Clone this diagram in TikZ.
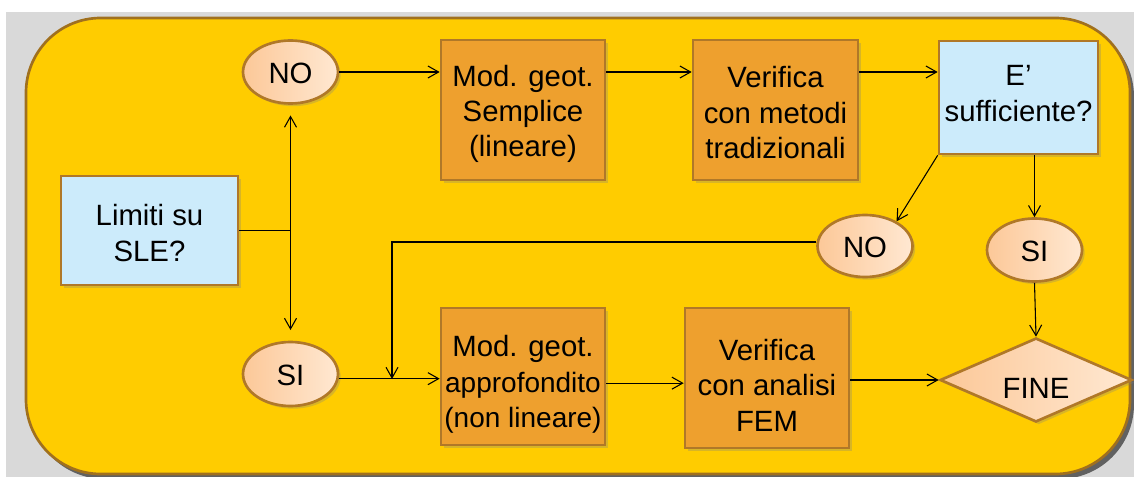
\documentclass[tikz,border=0pt]{standalone}
\usepackage{fontspec}
\setmainfont{Liberation Sans}
\usetikzlibrary{shapes.geometric,arrows.meta,shadows}

\definecolor{bggray}{HTML}{D9D9D9}
\definecolor{frameyellow}{HTML}{FFCC00}
\definecolor{framebrown}{HTML}{A0701E}
\definecolor{boxorange}{HTML}{EEA02E}
\definecolor{boxblue}{HTML}{CCEBFB}
\definecolor{edgebrown}{HTML}{B07828}
\definecolor{peachdark}{HTML}{FCC898}
\definecolor{peachlight}{HTML}{FFE8D2}

\tikzset{
  sz/.style 2 args={minimum width=#1*0.75pt, minimum height=#2*0.75pt},
  base/.style={draw=edgebrown, line width=2pt, inner sep=0pt,
    drop shadow={shadow xshift=2pt, shadow yshift=-2pt, opacity=0.3}},
  procbox/.style={base, rectangle, fill=boxorange},
  askbox/.style={base, rectangle, fill=boxblue},
  answer/.style={base, ellipse, left color=peachdark, right color=peachlight},
  endbox/.style={base, diamond, aspect=2.3, left color=peachdark, right color=peachlight},
  txt/.style={inner sep=0pt, align=center, font=\fontsize{22}{26.5}\selectfont},
  link/.style={line width=0.8pt, -{Straight Barb[length=8pt,width=9pt]}},
  plain/.style={line width=0.8pt},
}

\begin{document}
\begin{tikzpicture}[x=0.75pt, y=-0.75pt]
  \useasboundingbox (0,0) rectangle (1134,477);
  % page background
  \fill[bggray] (6,12) rectangle (1134,477);
  % panel with its shadow
  \fill[black, opacity=0.55, rounded corners=56pt] (30,22) rectangle (1134,479);
  \draw[framebrown, line width=2pt, fill=frameyellow, rounded corners=56pt]
    (26,18) rectangle (1130,474);

  % shapes
  \node[askbox, sz={177}{109}] (lim) at (149.5,230.5) {};
  \node[answer, sz={95}{63}] (no1) at (290.5,72) {};
  \node[answer, sz={95}{64}] (si1) at (290.5,374) {};
  \node[procbox, sz={164}{140}] (mod1) at (523,110) {};
  \node[procbox, sz={165}{140}] (ver1) at (775.5,110) {};
  \node[askbox, sz={159}{113}] (suff) at (1018.5,97.5) {};
  \node[answer, sz={95}{62}] (no2) at (865,246) {};
  \node[answer, sz={95}{63}] (si2) at (1034.5,250) {};
  \node[procbox, sz={164}{137}] (mod2) at (523,376.5) {};
  \node[procbox, sz={164}{140}] (ver2) at (767,378) {};
  \node[endbox, sz={192}{84}] (fine) at (1036,380) {};

  % labels
  \node[txt] (limt) at ([yshift=-2pt]lim.center) {Limiti su\\SLE?};
  \node[txt] (no1t) at ([yshift=-1pt]no1.center) {NO};
  \node[txt] (si1t) at ([yshift=-1pt]si1.center) {SI};
  \node[txt] (mod1t) at ([yshift=-3pt]mod1.center) {Mod. geot.\\Semplice\\(lineare)};
  \node[txt] (ver1t) at ([yshift=-2pt]ver1.center) {Verifica\\con metodi\\tradizionali};
  \node[txt] (sufft) at ([yshift=3pt]suff.center) {E’\\sufficiente?};
  \node[txt] (no2t) at ([yshift=-1pt]no2.center) {NO};
  \node[txt] (si2t) at ([yshift=-1pt]si2.center) {SI};
  \node[txt] (mod2t) at ([yshift=-6pt]mod2.center)
    {Mod. geot.\\{\fontsize{21}{26.5}\selectfont approfondito}\\{\fontsize{21}{26.5}\selectfont(non lineare)}};
  \node[txt] (ver2t) at ([yshift=-5.5pt]ver2.center) {Verifica\\con analisi\\FEM};
  \node[txt] (finet) at ([yshift=-6.5pt]fine.center) {FINE};

  % helper points
  \coordinate (hub) at (no1 |- lim.east);
  \coordinate (s1o) at ([yshift=-3.5pt]si1.east);
  \coordinate (m2o) at ([yshift=-5pt]mod2.east);
  \coordinate (n2o) at ([yshift=3pt]no2.west);
  \coordinate (drop) at (392,379);

  % connectors
  \draw[plain] (lim.east) -- (hub);
  \draw[link, shorten >=8pt] (hub) -- (no1.south);
  \draw[link, shorten >=8pt] (hub) -- (si1.north);
  \draw[link] (no1.east) -- (mod1.west |- no1.east);
  \draw[link] (mod1.east |- no1.east) -- (ver1.west |- no1.east);
  \draw[link] (ver1.east |- no1.east) -- (suff.west |- no1.east);
  \draw[link] (suff.south west) -- (no2.38);
  \draw[link] (si2.north |- suff.south) -- (si2.north);
  \draw[link] (si2.south) -- (fine.north);
  \draw[link] (s1o) -- (s1o -| mod2.west);
  \draw[link] (m2o) -- (m2o -| ver2.west);
  \draw[link] (ver2.east |- fine.west) -- (fine.west);
  \draw[link] (n2o) -| (drop);
\end{tikzpicture}
\end{document}
